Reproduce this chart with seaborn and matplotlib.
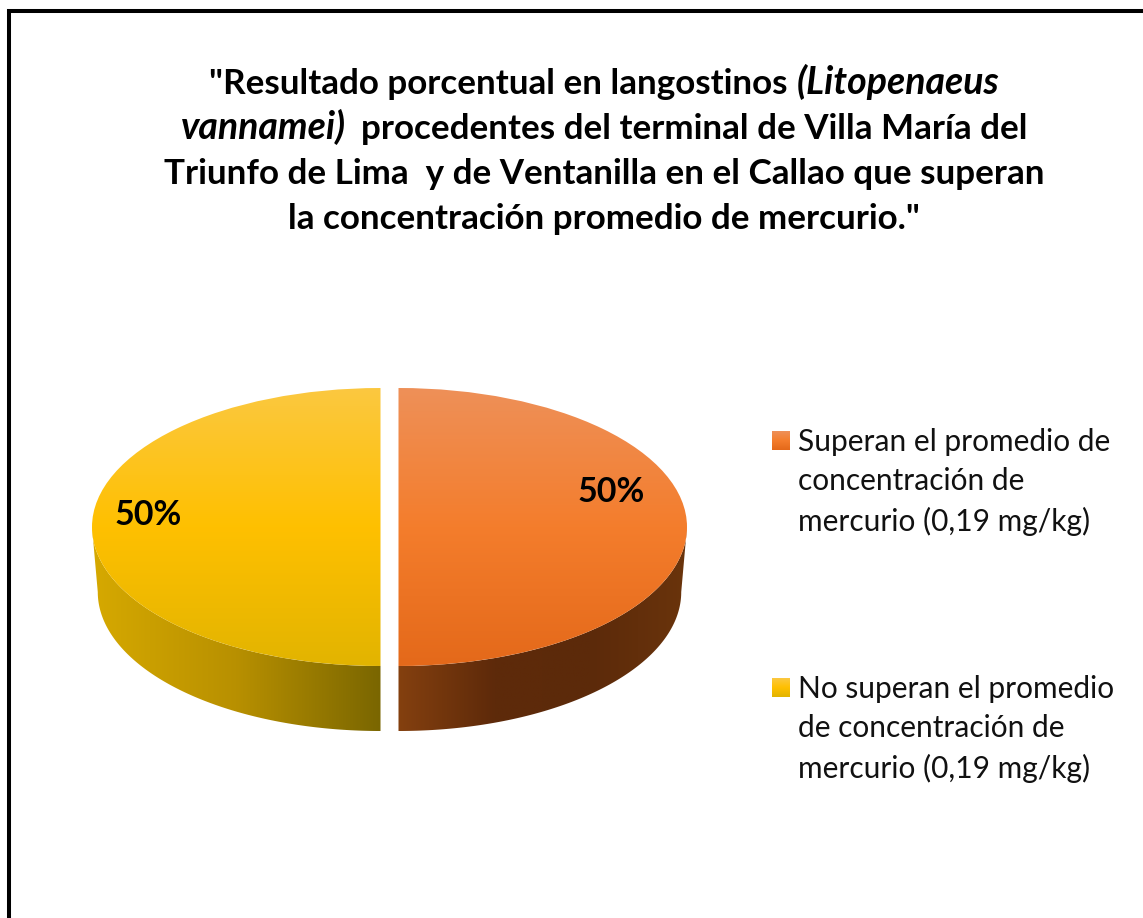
import numpy as np
import seaborn as sns
import matplotlib.pyplot as plt
from matplotlib.colors import LinearSegmentedColormap as LSC
from matplotlib.patches import Polygon

# data
categories = ['Superan el promedio de\nconcentración de\nmercurio (0,19 mg/kg)',
              'No superan el promedio\nde concentración de\nmercurio (0,19 mg/kg)']
shares = [50, 50]
title_lines = [
    [('"Resultado porcentual en langostinos', 'normal'), ('(Litopenaeus', 'italic')],
    [('vannamei)', 'italic'), ('procedentes del terminal de Villa María del', 'normal')],
    [('Triunfo de Lima  y de Ventanilla en el Callao que superan', 'normal')],
    [('la concentración promedio de mercurio."', 'normal')],
]
title_gaps = [9, 15, 0, 0]

top_colors = [['#EE9058', '#F47D2C', '#E4691A'], ['#FBC840', '#FFC000', '#E2B400']]
side_colors = [['#84400F', '#5E2A0A', '#5C2A0A', '#6A340C'], ['#D6A900', '#B89000', '#7A6600']]

W, H = 1143, 918
CX, CY = 389.5, 527    # pie centre in pixels
RX, RY = 288.5, 139    # pixels per data unit
DEPTH = 65 / RY

sns.set_theme(style='white')
plt.rcParams['font.family'] = ['Lato', 'DejaVu Sans']

fig = plt.figure(figsize=(W / 100, H / 100), dpi=100)
ax = fig.add_axes([0, 0, 1, 1])
xlim = (-CX / RX, (W - CX) / RX)
ylim = ((CY - H) / RY, CY / RY)


def px(x, y):
    return (x - CX) / RX, (CY - y) / RY


wedges, _, pcts = ax.pie(shares, startangle=90, counterclock=False, radius=1,
                         explode=[9 / RX, 9 / RX], autopct='%d%%')
ax.set_aspect('auto')

# lit top face and shaded side wall of each slice
for i, w in enumerate(wedges):
    x0, y0 = w.center
    im = ax.imshow(np.linspace(0, 1, 256).reshape(-1, 1), cmap=LSC.from_list('t', top_colors[i]),
                   extent=[-1.1, 1.1, -1, 1], origin='upper', aspect='auto', zorder=3)
    im.set_clip_path(w)
    w.set_facecolor('none')
    w.set_edgecolor('none')

    th = np.radians(np.linspace(-90, 0, 120)) if i == 0 else np.radians(np.linspace(180, 270, 120))
    upper = np.c_[x0 + np.cos(th), y0 + np.sin(th)]
    lower = np.c_[x0 + 0.98 * np.cos(th), y0 + np.sin(th) - DEPTH]
    wall = Polygon(np.r_[upper, lower[::-1]], closed=True, fc='none', ec='none', transform=ax.transData)
    ax.add_patch(wall)
    grad = np.linspace(0, 1, 256).reshape(1, -1)
    im2 = ax.imshow(grad, cmap=LSC.from_list('s', side_colors[i]),
                    extent=[x0 - 1 if i else x0, x0 if i else x0 + 1, -1.6, 0.1],
                    aspect='auto', zorder=2)
    im2.set_clip_path(wall)

# percent labels
pcts[0].set_position(px(611, 492))
pcts[1].set_position(px(148.5, 515))
for t in pcts:
    t.set(fontsize=24.5, fontweight='bold', color='black', zorder=5, ha='center', va='center')

# legend
legend_y = [441, 688]
for i, lab in enumerate(categories):
    x1, y1 = px(772, legend_y[i] - 10)
    x2, y2 = px(790, legend_y[i] + 9)
    ax.imshow(np.linspace(0, 1, 32).reshape(-1, 1), cmap=LSC.from_list('l', top_colors[i]),
              extent=[x1, x2, y2, y1], origin='upper', aspect='auto', zorder=3)
    ax.text(*px(798, legend_y[i] - 13), lab, fontsize=21.5, color='#111111', va='top', ha='left',
            linespacing=1.48, zorder=5)

# title, bold with italic pieces, centred line by line
renderer = fig.canvas.get_renderer()
for n, pieces in enumerate(title_lines):
    base = 94 + 45 * n
    items = [ax.text(0, 0, s, fontsize=27 if st == 'italic' else 25.2, fontweight='bold', style=st,
                     va='baseline', ha='left', color='black', zorder=5) for s, st in pieces]
    widths = [t.get_window_extent(renderer).width for t in items]
    left = 604 - (sum(widths) + title_gaps[n] * (len(items) - 1)) / 2
    for t, wd in zip(items, widths):
        t.set_position(px(left, base))
        left += wd + title_gaps[n]

# frame of the slide: only top and left edges show
ax.set_xlim(xlim)
ax.set_ylim(ylim)
ax.axis('off')
ax.plot(*zip(px(8.5, H), px(8.5, 10.5), px(W, 10.5)), color='black', lw=2.9,
        solid_joinstyle='miter', clip_on=False, zorder=6)

fig.savefig('out.png', dpi=100, facecolor='white')
